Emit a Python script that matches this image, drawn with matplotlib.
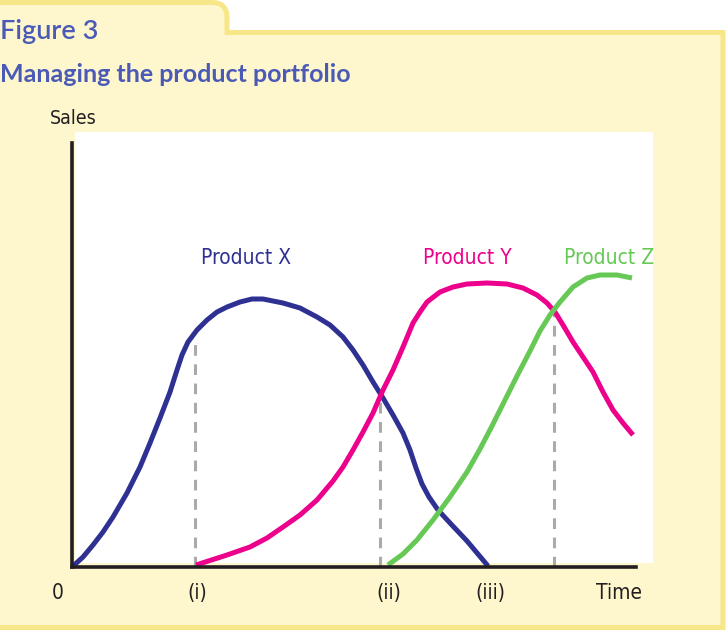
import matplotlib.pyplot as plt
from matplotlib.path import Path
from matplotlib.patches import PathPatch, Rectangle

# values (time and sales in arbitrary units)
x_time = [0, 11, 21, 31, 41, 55, 68, 78, 88, 98, 105, 110, 116, 125, 135, 145, 155,
          168, 180, 191, 211, 228, 245, 258, 271, 281, 291, 301, 311, 321, 331, 338,
          344, 350, 357, 366, 378, 395, 416]
x_sales = [0, 10, 22, 35, 50, 74, 100, 124, 149, 175, 197, 212, 225, 237, 247, 255, 260,
           265, 268, 268, 264, 259, 250, 242, 230, 217, 202, 185, 169, 152, 134, 117,
           99, 83, 70, 57, 44, 26, 1]

y_time = [124, 155, 178, 195, 211, 228, 245, 261, 271, 281, 291, 301, 311, 321, 331,
          341, 348, 355, 368, 381, 395, 415, 435, 451, 465, 475, 483, 491, 501, 511,
          521, 531, 541, 551, 561]
y_sales = [2, 12, 20, 29, 40, 52, 67, 86, 100, 117, 135, 154, 177, 197, 220,
           244, 255, 265, 275, 280, 283, 284, 283, 279, 272, 264, 255, 242, 225, 210,
           195, 175, 157, 144, 132]

z_time = [316, 331, 345, 361, 378, 395, 408, 420, 432, 445, 458, 468, 478, 488, 501,
          515, 528, 545, 560]
z_sales = [2, 13, 27, 47, 70, 95, 118, 141, 165, 191, 216, 236, 252, 265, 280,
           289, 292, 292, 289]

guide_time = [123, 308, 482]
guide_top = [230, 174, 254]

tick_pos = [-14, 125, 317, 418, 547]
tick_labels = ["0", "(i)", "(ii)", "(iii)", "Time"]

names = ["Product X", "Product Y", "Product Z"]
name_pos = [(174, 309), (395, 309), (537, 309)]
colors = ["#2E3192", "#EC008C", "#66C855"]

W, H = 726, 630
title_col = "#4A5AB6"
ink = "#231F20"

# condensed face for the chart labels
cond = dict(family="DejaVu Sans", stretch="condensed")

fig = plt.figure(figsize=(W / 100, H / 100), dpi=100)
fig.patch.set_facecolor("white")

# background frame with the tab, in pixel coords
bg = fig.add_axes([0, 0, 1, 1], zorder=0)
bg.set_xlim(0, W)
bg.set_ylim(H, 0)
bg.axis("off")
verts = [(-10, 2.5), (212, 2.5), (227, 2.5), (227, 17.5), (227, 32.5), (723, 32.5),
         (723, 627.5), (-10, 627.5), (-10, 2.5)]
codes = [Path.MOVETO, Path.LINETO, Path.CURVE3, Path.CURVE3, Path.LINETO, Path.LINETO,
         Path.LINETO, Path.LINETO, Path.CLOSEPOLY]
bg.add_patch(PathPatch(Path(verts, codes), facecolor="#FEF7CD", edgecolor="#F7E788",
                       lw=3.6, joinstyle="miter"))
bg.add_patch(Rectangle((75, 132), 578, 431, facecolor="white", edgecolor="none"))

bg.text(0, 32, "Figure 3", fontsize=19.5, color=title_col, family="Lato",
        fontweight="semibold", va="center", ha="left")
bg.text(0, 75, "Managing the product portfolio", fontsize=18, color=title_col,
        family="Lato", fontweight="bold", va="center", ha="left")
bg.text(73, 118, "Sales", fontsize=14, color=ink, va="center", ha="center", **cond)

ax = fig.add_axes([72 / W, (H - 567) / H, 564 / W, 424 / H], zorder=1)
ax.patch.set_alpha(0)
ax.set_xlim(0, 564)
ax.set_ylim(0, 424)
for s in ["top", "right"]:
    ax.spines[s].set_visible(False)
for s in ["left", "bottom"]:
    ax.spines[s].set_linewidth(2.6)
    ax.spines[s].set_color(ink)
ax.set_xticks([])
ax.set_yticks([])

for t, top in zip(guide_time, guide_top):
    ax.plot([t, t], [0, top], color="#AAAAAA", lw=2.2, ls=(0, (3.5, 2.8)), zorder=1)

for (t, v), c in zip([(x_time, x_sales), (y_time, y_sales), (z_time, z_sales)], colors):
    ax.plot(t, v, color=c, lw=3.6, solid_capstyle="butt", solid_joinstyle="round",
            clip_on=False, zorder=2)

for n, (t, v), c in zip(names, name_pos, colors):
    ax.text(t, v, n, color=c, fontsize=15, ha="center", va="center", **cond)

for t, lab in zip(tick_pos, tick_labels):
    ax.text(t, -26, lab, color=ink, fontsize=15, ha="center", va="center",
            clip_on=False, **cond)

plt.savefig("out.png", dpi=100)
